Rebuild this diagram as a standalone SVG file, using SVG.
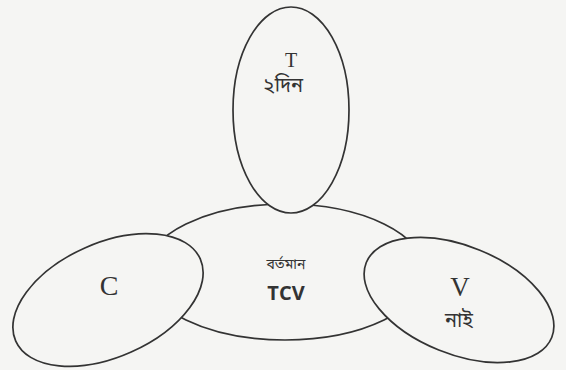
<svg xmlns="http://www.w3.org/2000/svg" width="566" height="370" viewBox="0 0 566 370">
<style>
.e{fill:#f5f5f3;stroke:#333;stroke-width:1.7}
.serif{font-family:"Liberation Serif","Times New Roman",serif;fill:#333;text-anchor:middle}
.bn{font-family:"Noto Sans Bengali","Noto Serif Bengali","Lohit Bengali","FreeSerif","Noto Sans",sans-serif;fill:#333;text-anchor:middle}
.sans{font-family:"Open Sans","Noto Sans",sans-serif;fill:#333;text-anchor:middle;font-weight:bold}
</style>
<rect x="0" y="0" width="566" height="370" fill="#f5f5f3"/>
<g id="connectors"></g>
<g id="node-center">
<ellipse class="e" cx="285" cy="272" rx="140" ry="68"/>
<text class="bn" x="286" y="269" font-size="14">বর্তমান</text>
<text class="sans" x="286" y="300" font-size="20">TCV</text>
</g>
<g id="node-T">
<ellipse class="e" cx="291" cy="110" rx="58" ry="103"/>
<text class="serif" x="291" y="67" font-size="20">T</text>
<text class="bn" x="283" y="92" font-size="20">২দিন</text>
</g>
<g id="node-C">
<ellipse class="e" cx="0" cy="0" rx="101" ry="57" transform="translate(108 300) rotate(-24)"/>
<text class="serif" x="109" y="295" font-size="28">C</text>
</g>
<g id="node-V">
<ellipse class="e" cx="0" cy="0" rx="100" ry="54" transform="translate(459 300) rotate(22)"/>
<text class="serif" x="460" y="296" font-size="27">V</text>
<text class="bn" x="459" y="327" font-size="20">নাই</text>
</g>
</svg>
